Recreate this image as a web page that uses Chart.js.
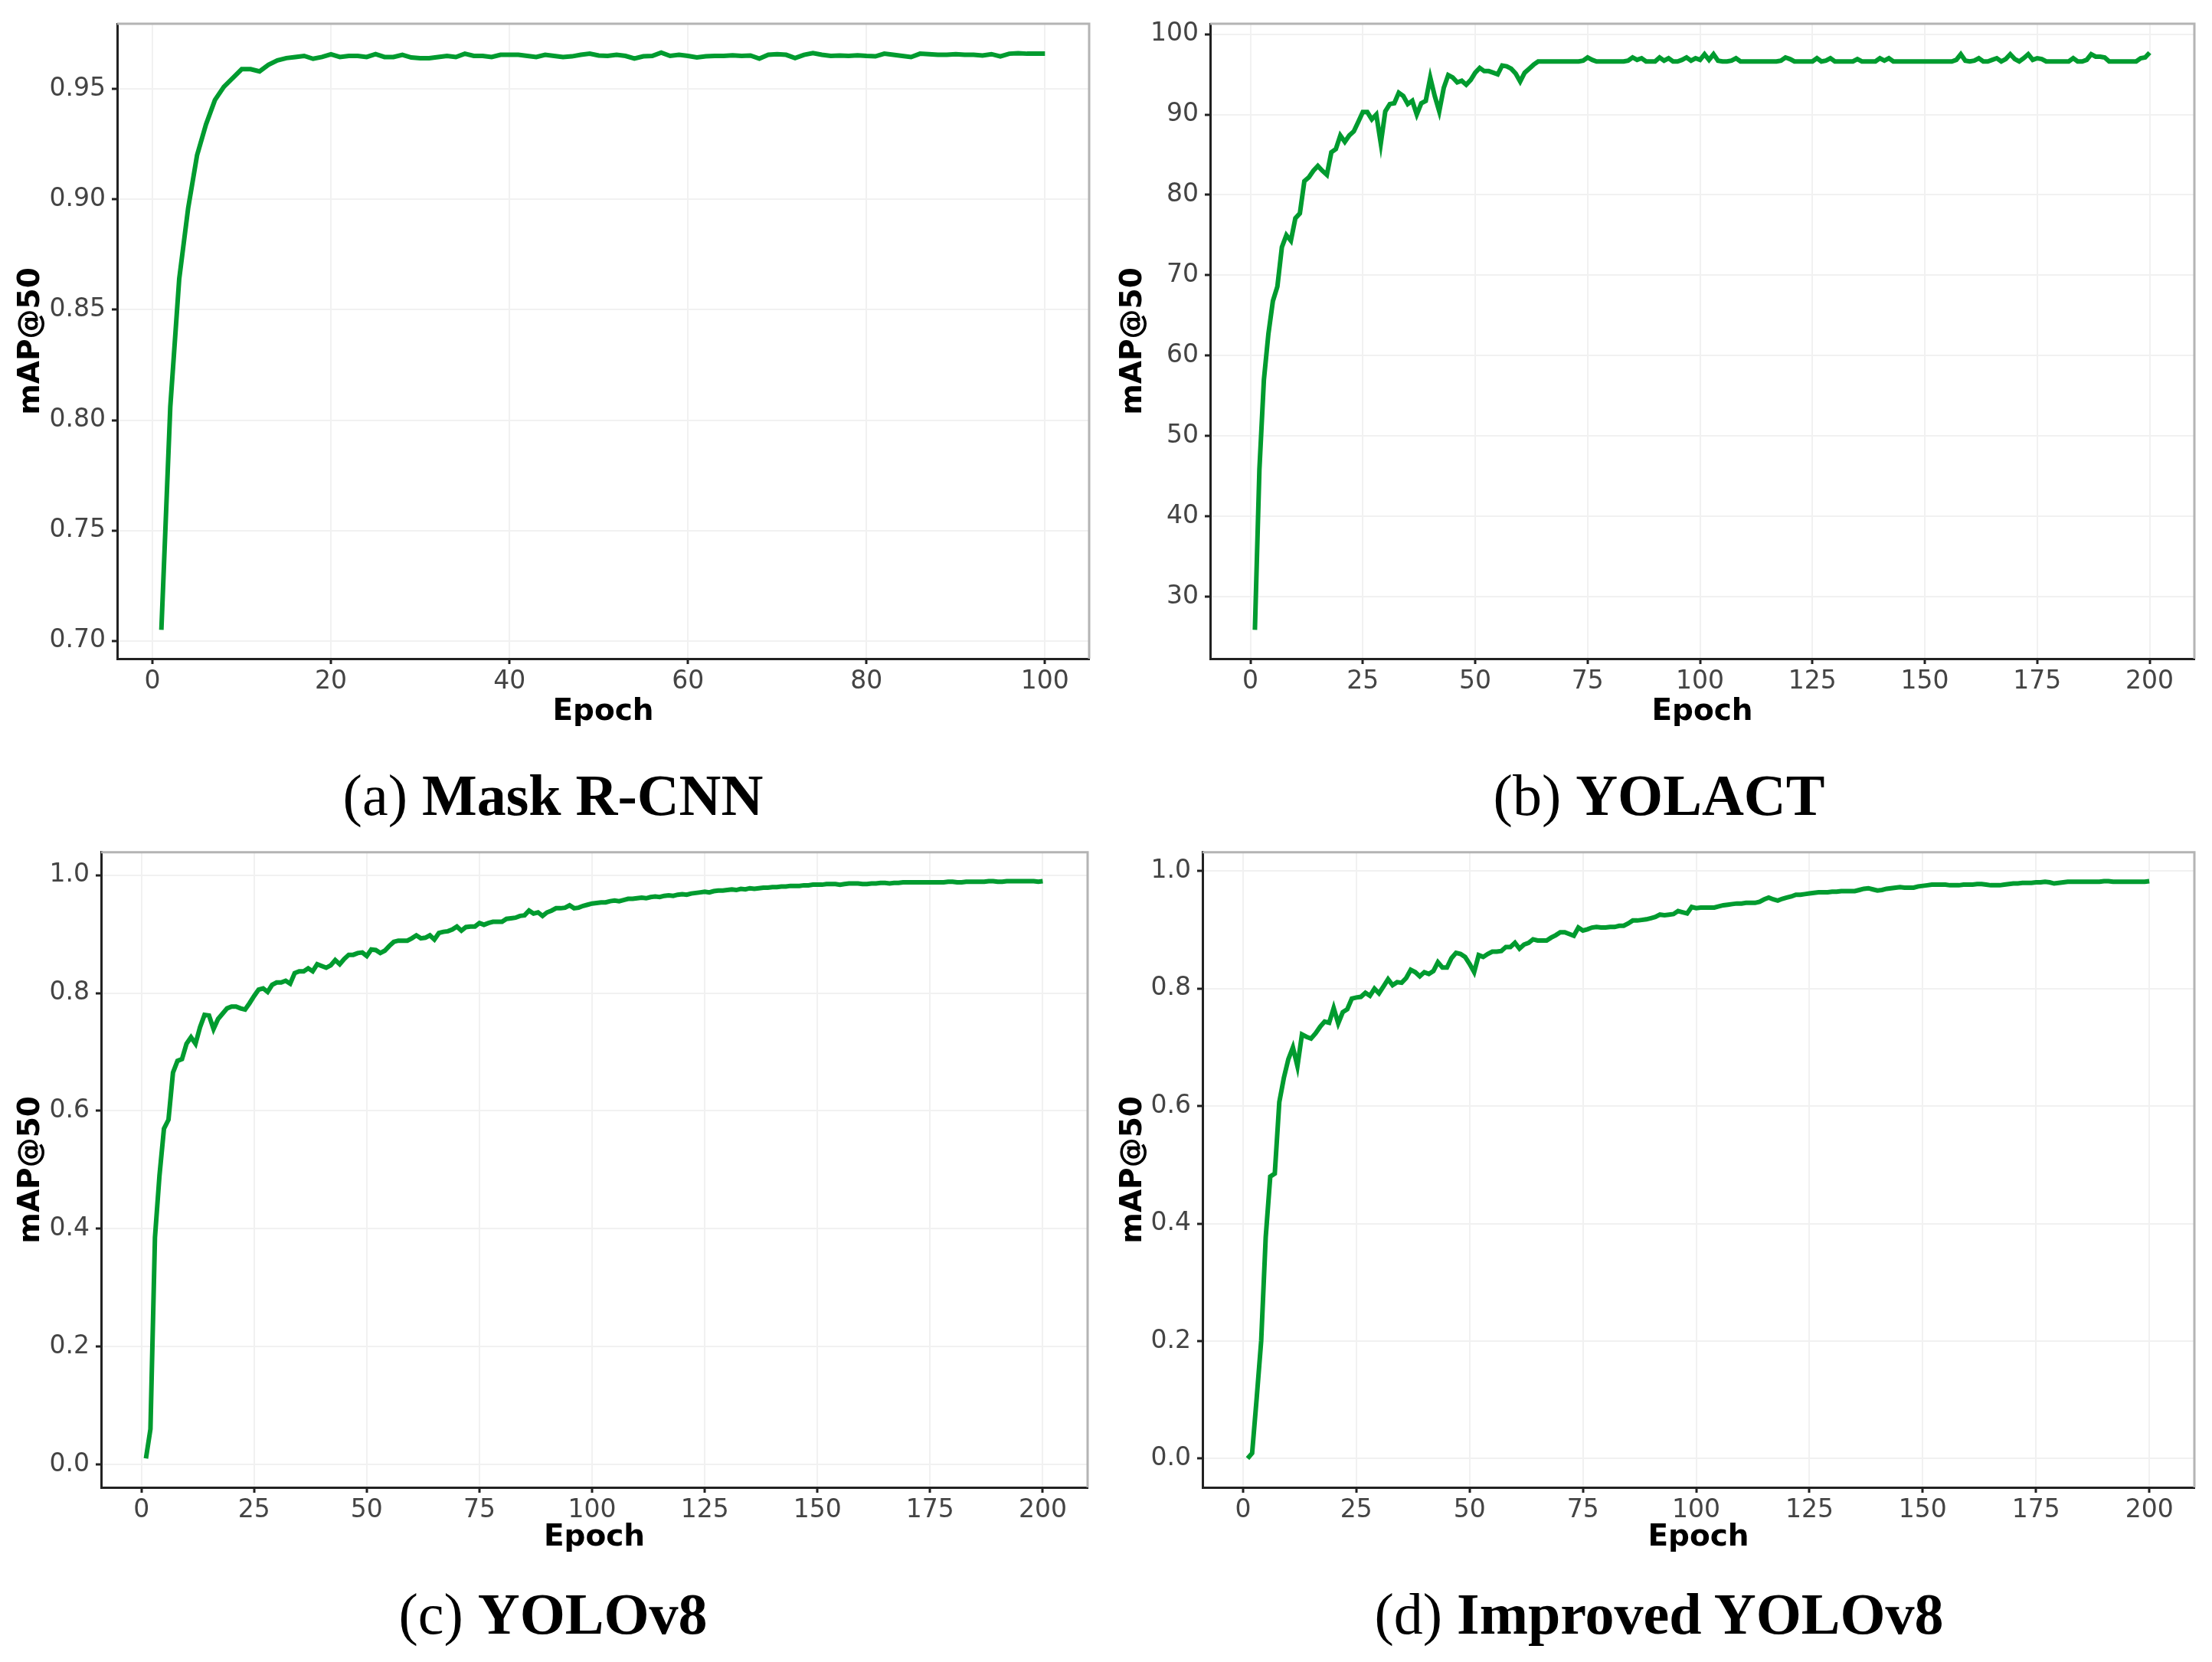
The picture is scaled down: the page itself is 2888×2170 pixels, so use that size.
<!DOCTYPE html>
<html>
<head>
<meta charset="utf-8">
<script src="https://cdn.jsdelivr.net/npm/chart.js@4.4.1/dist/chart.umd.min.js"></script>
<style>
  html, body { margin: 0; padding: 0; background: #fff; }
  body { width: 2888px; height: 2170px; position: relative; overflow: hidden; }
  .panel { position: absolute; width: 1444px; height: 1000px; }
  .caption {
    position: absolute; width: 1444px; text-align: center;
    font-family: "Liberation Serif", "DejaVu Serif", serif;
    font-size: 76px; line-height: 76px; color: #000; white-space: nowrap;
  }
  .caption b { font-weight: bold; }
</style>
</head>
<body>
<div class="panel" style="left:0;top:0"><canvas id="chartA" width="1444" height="1000"></canvas></div>
<div class="panel" style="left:1444px;top:0"><canvas id="chartB" width="1444" height="1000"></canvas></div>
<div class="panel" style="left:0;top:1085px"><canvas id="chartC" width="1444" height="1000"></canvas></div>
<div class="panel" style="left:1444px;top:1085px"><canvas id="chartD" width="1444" height="1000"></canvas></div>
<div class="caption" id="capA" style="left:0;top:1000px"></div>
<div class="caption" id="capB" style="left:1444px;top:1000px"></div>
<div class="caption" id="capC" style="left:0;top:2069px"></div>
<div class="caption" id="capD" style="left:1444px;top:2069px"></div>
<script>
// mAP@50 per epoch
const maskRcnnMap = [
  0.705, 0.806, 0.864, 0.896, 0.920, 0.934, 0.945, 0.951, 0.955, 0.959,
  0.959, 0.958, 0.961, 0.963, 0.964, 0.9645, 0.965, 0.9637, 0.9645, 0.9657,
  0.9645, 0.965, 0.965, 0.9645, 0.9658, 0.9645, 0.9645, 0.9655, 0.9643, 0.964,
  0.964, 0.9645, 0.965, 0.9645, 0.966, 0.965, 0.965, 0.9645, 0.9655, 0.9655,
  0.9655, 0.965, 0.9645, 0.9655, 0.965, 0.9645, 0.9648, 0.9655, 0.966, 0.9652,
  0.965, 0.9655, 0.965, 0.9638, 0.9648, 0.965, 0.9665, 0.965, 0.9655, 0.965,
  0.9643, 0.9648, 0.965, 0.965, 0.9653, 0.965, 0.9652, 0.9638, 0.9655, 0.9658,
  0.9655, 0.964, 0.9655, 0.9663, 0.9655, 0.965, 0.9652, 0.965, 0.9653, 0.965,
  0.9648, 0.966, 0.9655, 0.965, 0.9645, 0.966, 0.9658, 0.9655, 0.9655, 0.9658,
  0.9655, 0.9655, 0.9652, 0.9658, 0.9648, 0.966, 0.9662, 0.966, 0.966, 0.966
];

const yolactMap = [
  25.9, 45.8, 57.0, 62.7, 66.8, 68.6, 73.5, 75.0, 74.3, 77.1,
  77.7, 81.7, 82.2, 83.0, 83.6, 83.0, 82.5, 85.3, 85.7, 87.4,
  86.6, 87.4, 87.9, 89.1, 90.3, 90.3, 89.4, 90.0, 86.4, 90.4,
  91.3, 91.4, 92.7, 92.3, 91.3, 91.7, 90.0, 91.4, 91.7, 94.6,
  92.3, 90.4, 93.3, 94.9, 94.6, 94.0, 94.2, 93.7, 94.3, 95.2,
  95.8, 95.4, 95.4, 95.2, 95.0, 96.1, 96.0, 95.7, 95.1, 94.1,
  95.2, 95.7, 96.2, 96.6, 96.6, 96.6, 96.6, 96.6, 96.6, 96.6,
  96.6, 96.6, 96.6, 96.7, 97.1, 96.8, 96.6, 96.6, 96.6, 96.6,
  96.6, 96.6, 96.6, 96.7, 97.1, 96.8, 97.0, 96.6, 96.6, 96.6,
  97.1, 96.7, 97.0, 96.6, 96.6, 96.8, 97.1, 96.7, 97.0, 96.8,
  97.5, 96.8, 97.5, 96.7, 96.6, 96.6, 96.7, 97.0, 96.6, 96.6,
  96.6, 96.6, 96.6, 96.6, 96.6, 96.6, 96.6, 96.7, 97.1, 96.9,
  96.6, 96.6, 96.6, 96.6, 96.6, 97.0, 96.6, 96.7, 97.0, 96.6,
  96.6, 96.6, 96.6, 96.6, 96.9, 96.6, 96.6, 96.6, 96.6, 97.0,
  96.7, 97.0, 96.6, 96.6, 96.6, 96.6, 96.6, 96.6, 96.6, 96.6,
  96.6, 96.6, 96.6, 96.6, 96.6, 96.6, 96.8, 97.5, 96.7, 96.6,
  96.7, 97.0, 96.6, 96.6, 96.8, 97.0, 96.6, 96.9, 97.5, 96.9,
  96.6, 97.0, 97.5, 96.8, 97.0, 96.9, 96.6, 96.6, 96.6, 96.6,
  96.6, 96.6, 97.0, 96.6, 96.6, 96.8, 97.5, 97.2, 97.2, 97.1,
  96.6, 96.6, 96.6, 96.6, 96.6, 96.6, 96.6, 97.0, 97.1, 97.7
];

const yolov8Map = [
  0.010, 0.060, 0.385, 0.490, 0.570, 0.585, 0.665, 0.685, 0.688, 0.714,
  0.725, 0.714, 0.742, 0.763, 0.762, 0.739, 0.756, 0.765, 0.774, 0.777,
  0.777, 0.774, 0.772, 0.783, 0.795, 0.806, 0.808, 0.802, 0.814, 0.818,
  0.818, 0.821, 0.816, 0.834, 0.837, 0.837, 0.842, 0.837, 0.849, 0.846,
  0.843, 0.847, 0.856, 0.849, 0.858, 0.865, 0.865, 0.868, 0.869, 0.863,
  0.874, 0.873, 0.868, 0.872, 0.880, 0.887, 0.889, 0.889, 0.889, 0.893,
  0.898, 0.893, 0.894, 0.898, 0.891, 0.902, 0.904, 0.905, 0.908, 0.913,
  0.906, 0.912, 0.913, 0.913, 0.919, 0.916, 0.919, 0.921, 0.921, 0.921,
  0.926, 0.927, 0.928, 0.931, 0.932, 0.940, 0.935, 0.937, 0.931, 0.937,
  0.940, 0.944, 0.944, 0.945, 0.949, 0.944, 0.945, 0.948, 0.950, 0.952,
  0.953, 0.954, 0.954, 0.956, 0.957, 0.956, 0.958, 0.960, 0.960, 0.961,
  0.962, 0.961, 0.963, 0.964, 0.963, 0.965, 0.966, 0.965, 0.967, 0.968,
  0.967, 0.969, 0.970, 0.971, 0.972, 0.971, 0.973, 0.974, 0.974, 0.975,
  0.976, 0.975, 0.977, 0.976, 0.978, 0.977, 0.978, 0.979, 0.979, 0.980,
  0.980, 0.981, 0.981, 0.982, 0.982, 0.982, 0.983, 0.983, 0.984, 0.984,
  0.984, 0.985, 0.985, 0.985, 0.984, 0.985, 0.986, 0.986, 0.986, 0.985,
  0.985, 0.986, 0.986, 0.987, 0.987, 0.986, 0.987, 0.987, 0.988, 0.988,
  0.988, 0.988, 0.988, 0.988, 0.988, 0.988, 0.988, 0.988, 0.989, 0.989,
  0.988, 0.988, 0.989, 0.989, 0.989, 0.989, 0.989, 0.990, 0.990, 0.989,
  0.989, 0.990, 0.990, 0.990, 0.990, 0.990, 0.990, 0.990, 0.989, 0.990
];

const improvedMap = [
  0.000, 0.009, 0.102, 0.200, 0.377, 0.480, 0.485, 0.607, 0.648, 0.680,
  0.700, 0.668, 0.722, 0.718, 0.715, 0.724, 0.735, 0.744, 0.742, 0.767,
  0.741, 0.760, 0.765, 0.783, 0.785, 0.786, 0.793, 0.788, 0.800, 0.792,
  0.804, 0.816, 0.806, 0.811, 0.810, 0.818, 0.832, 0.828, 0.821, 0.828,
  0.825, 0.830, 0.845, 0.836, 0.836, 0.852, 0.861, 0.859, 0.854, 0.842,
  0.828, 0.857, 0.854, 0.859, 0.863, 0.863, 0.864, 0.871, 0.871, 0.878,
  0.868, 0.875, 0.878, 0.884, 0.882, 0.882, 0.882, 0.887, 0.891, 0.896,
  0.896, 0.893, 0.890, 0.904, 0.899, 0.901, 0.904, 0.905, 0.904, 0.904,
  0.905, 0.905, 0.907, 0.907, 0.911, 0.916, 0.916, 0.917, 0.918, 0.920,
  0.922, 0.926, 0.925, 0.926, 0.927, 0.932, 0.930, 0.928, 0.939, 0.937,
  0.938, 0.938, 0.938, 0.938, 0.940, 0.942, 0.943, 0.944, 0.945, 0.945,
  0.946, 0.946, 0.946, 0.948, 0.952, 0.955, 0.952, 0.950, 0.953, 0.955,
  0.957, 0.960, 0.960, 0.961, 0.962, 0.963, 0.964, 0.964, 0.964, 0.965,
  0.965, 0.966, 0.966, 0.966, 0.966, 0.968, 0.970, 0.971, 0.969, 0.967,
  0.968, 0.970, 0.971, 0.972, 0.973, 0.972, 0.972, 0.972, 0.974, 0.975,
  0.976, 0.977, 0.977, 0.977, 0.977, 0.976, 0.976, 0.976, 0.977, 0.977,
  0.977, 0.978, 0.978, 0.977, 0.976, 0.976, 0.976, 0.977, 0.978, 0.979,
  0.979, 0.980, 0.980, 0.980, 0.981, 0.981, 0.982, 0.981, 0.979, 0.980,
  0.981, 0.982, 0.982, 0.982, 0.982, 0.982, 0.982, 0.982, 0.982, 0.983,
  0.983, 0.982, 0.982, 0.982, 0.982, 0.982, 0.982, 0.982, 0.982, 0.983
];

// tick labels
const xTicks100 = [0, 20, 40, 60, 80, 100];
const xTicks200 = [0, 25, 50, 75, 100, 125, 150, 175, 200];
const yTicksA = [0.70, 0.75, 0.80, 0.85, 0.90, 0.95];
const yTicksB = [30, 40, 50, 60, 70, 80, 90, 100];
const yTicksCD = [0.0, 0.2, 0.4, 0.6, 0.8, 1.0];

const captionTags = ['(a)', '(b)', '(c)', '(d)'];
const captionNames = ['Mask R-CNN', 'YOLACT', 'YOLOv8', 'Improved YOLOv8'];

['capA', 'capB', 'capC', 'capD'].forEach((id, i) => {
  document.getElementById(id).innerHTML = `${captionTags[i]} <b>${captionNames[i]}</b>`;
});

// grey top/right frame like the ggplot panel border
const frame = {
  id: 'frame',
  afterDraw(chart) {
    const { ctx, chartArea: a } = chart;
    ctx.save();
    ctx.strokeStyle = '#b4b4b4';
    ctx.lineWidth = 3;
    ctx.beginPath();
    ctx.moveTo(a.left, a.top);
    ctx.lineTo(a.right, a.top);
    ctx.lineTo(a.right, a.bottom);
    ctx.stroke();
    ctx.restore();
  }
};

const tickFont = { family: 'DejaVu Sans', size: 33 };
const titleFont = { family: 'DejaVu Sans', size: 39, weight: 'bold' };

function makeChart(id, values, xTicks, yTicks, decimals, box) {
  const n = values.length;
  const lo = Math.min(...values), hi = Math.max(...values);
  const padY = (hi - lo) * 0.05, padX = (n - 1) * 0.05;
  new Chart(document.getElementById(id), {
    type: 'line',
    data: {
      datasets: [{
        data: values.map((v, i) => ({ x: i + 1, y: v })),
        borderColor: '#009b2f',
        borderWidth: 6,
        pointRadius: 0,
        tension: 0,
        fill: false
      }]
    },
    options: {
      responsive: false,
      animation: false,
      devicePixelRatio: 1,
      layout: { padding: { left: 0, top: box.top, right: box.right, bottom: 0 } },
      plugins: { legend: { display: false }, tooltip: { enabled: false } },
      scales: {
        x: {
          type: 'linear',
          min: 1 - padX,
          max: n + padX,
          afterBuildTicks: s => { s.ticks = xTicks.map(v => ({ value: v })); },
          afterFit: s => { s.height = box.xh; },
          grid: { color: '#f1f1f1', lineWidth: 2, tickLength: 7, tickColor: '#222', tickWidth: 3 },
          border: { color: '#222', width: 3 },
          ticks: { font: tickFont, color: '#444', padding: 4, maxRotation: 0, callback: v => String(v) },
          title: { display: true, text: 'Epoch', font: titleFont, color: '#000', padding: { top: 0, bottom: box.xtitle } }
        },
        y: {
          min: lo - padY,
          max: hi + padY,
          afterBuildTicks: s => { s.ticks = yTicks.map(v => ({ value: v })); },
          afterFit: s => { s.width = box.yw; },
          grid: { color: '#f1f1f1', lineWidth: 2, tickLength: 7, tickColor: '#222', tickWidth: 3 },
          border: { color: '#222', width: 3 },
          ticks: { font: tickFont, color: '#444', padding: 8, callback: v => v.toFixed(decimals) },
          title: { display: true, text: 'mAP@50', font: titleFont, color: '#000', padding: { top: box.ytitle, bottom: 0 } }
        }
      }
    },
    plugins: [frame]
  });
}

makeChart('chartA', maskRcnnMap, xTicks100, yTicksA, 2, { top: 31, right: 22, xh: 140, yw: 153, xtitle: 47, ytitle: 17 });
makeChart('chartB', yolactMap, xTicks200, yTicksB, 0, { top: 31, right: 23, xh: 140, yw: 136, xtitle: 47, ytitle: 12 });
makeChart('chartC', yolov8Map, xTicks200, yTicksCD, 1, { top: 25, right: 24, xh: 143, yw: 132, xtitle: 54, ytitle: 17 });
makeChart('chartD', improvedMap, xTicks200, yTicksCD, 1, { top: 25, right: 23, xh: 143, yw: 126, xtitle: 54, ytitle: 12 });
</script>
</body>
</html>
